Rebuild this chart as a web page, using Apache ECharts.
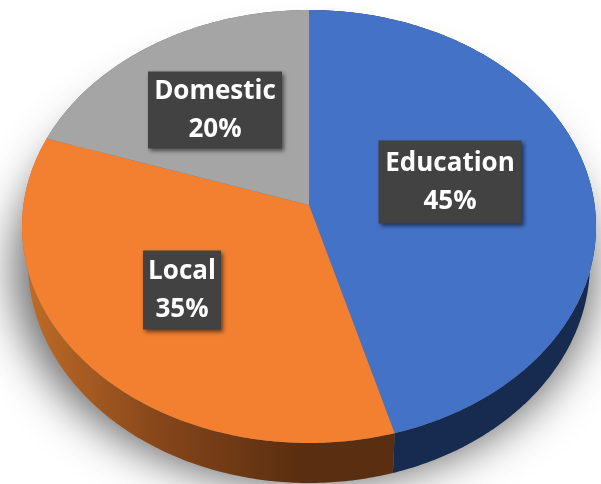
<!DOCTYPE html>
<html>
<head>
<meta charset="utf-8">
<script src="https://cdn.jsdelivr.net/npm/echarts@6/dist/echarts.min.js"></script>
<style>
  html, body { margin: 0; padding: 0; background: #fff; }
  #chart { width: 601px; height: 484px; }
</style>
</head>
<body>
<div id="chart"></div>
<script>
const categories = ['Education', 'Local', 'Domestic'];
const shares = [45, 35, 20];
const faceColors = ['#4472c6', '#f28030', '#a5a5a5'];

// tilted pie geometry, in pixels
const topFace = { cx: 309, cy: 226.5, rx: 287, ry: 216.5 };
const bottomFace = { cx: 309, cy: 263, rx: 281, ry: 220 };
const apex = [309, 205];
const labelCenters = [[450, 182], [182, 290], [215, 110]];
const labelBoxes = [[143, 83], [78, 79], [134, 77]];
const shadowShift = 2000;

const total = shares.reduce((a, b) => a + b, 0);
let running = 0;
const slices = shares.map(function (v) {
  const start = running / total * 360;
  running += v;
  return [start, running / total * 360];
});

// perspective makes the far slices look a bit wider
function warp(deg) {
  const s = Math.sin(deg * Math.PI / 180);
  return deg + 6.6 * s * s;
}
function onEllipse(e, deg) {
  const a = warp(deg) * Math.PI / 180;
  return [e.cx + e.rx * Math.sin(a), e.cy - e.ry * Math.cos(a)];
}
function arc(e, from, to) {
  const pts = [];
  const n = Math.max(2, Math.ceil((to - from) / 0.75));
  for (let i = 0; i <= n; i++) pts.push(onEllipse(e, from + (to - from) * i / n));
  return pts;
}

const orangeWall = new echarts.graphic.LinearGradient(30, 0, 300, 0, [
  { offset: 0, color: '#bd6a26' },
  { offset: 0.5, color: '#84451a' },
  { offset: 1, color: '#5a2e10' }
], true);
const wallColors = ['#172b50', orangeWall, '#6b6b6b'];

const myChart = echarts.init(document.getElementById('chart'));
myChart.setOption({
  animation: false,
  backgroundColor: '#fff',
  series: [
    {
      // soft shadow under the disc, the shape itself stays off the canvas
      type: 'custom',
      coordinateSystem: 'none',
      silent: true,
      z: 1,
      data: [[0, 360]],
      renderItem: function () {
        return {
          type: 'polygon',
          shape: { points: arc({ cx: 304 - shadowShift, cy: 270, rx: 290, ry: 216 }, 0, 360) },
          style: {
            fill: '#000', shadowBlur: 44, shadowOffsetX: shadowShift,
            shadowColor: 'rgba(50,50,50,0.72)'
          }
        };
      }
    },
    {
      // side wall
      type: 'custom',
      coordinateSystem: 'none',
      silent: true,
      z: 2,
      data: slices,
      renderItem: function (params, api) {
        const from = api.value(0), to = api.value(1);
        const pts = arc(topFace, from, to).concat(arc(bottomFace, from, to).reverse());
        return { type: 'polygon', shape: { points: pts }, style: { fill: wallColors[params.dataIndex] } };
      }
    },
    {
      // top face
      type: 'custom',
      coordinateSystem: 'none',
      silent: true,
      z: 3,
      data: slices,
      renderItem: function (params, api) {
        const pts = [apex].concat(arc(topFace, api.value(0), api.value(1)));
        return { type: 'polygon', shape: { points: pts }, style: { fill: faceColors[params.dataIndex] } };
      }
    },
    {
      // label boxes
      type: 'custom',
      coordinateSystem: 'none',
      silent: true,
      z: 4,
      data: shares,
      renderItem: function (params, api) {
        const i = params.dataIndex;
        const c = labelCenters[i], b = labelBoxes[i];
        return {
          type: 'group',
          children: [
            {
              type: 'rect',
              shape: { x: c[0] - b[0] / 2, y: c[1] - b[1] / 2, width: b[0], height: b[1] },
              style: {
                fill: '#424242', shadowBlur: 4, shadowOffsetX: 2, shadowOffsetY: 2,
                shadowColor: 'rgba(0,0,0,0.55)'
              }
            },
            {
              type: 'text',
              style: {
                x: c[0], y: c[1] + 1,
                text: categories[i] + '\n' + api.value(0) + '%',
                fill: '#fff',
                font: 'bold 26px "Open Sans", sans-serif',
                lineHeight: 38,
                align: 'center',
                verticalAlign: 'middle'
              }
            }
          ]
        };
      }
    }
  ]
});
</script>
</body>
</html>
